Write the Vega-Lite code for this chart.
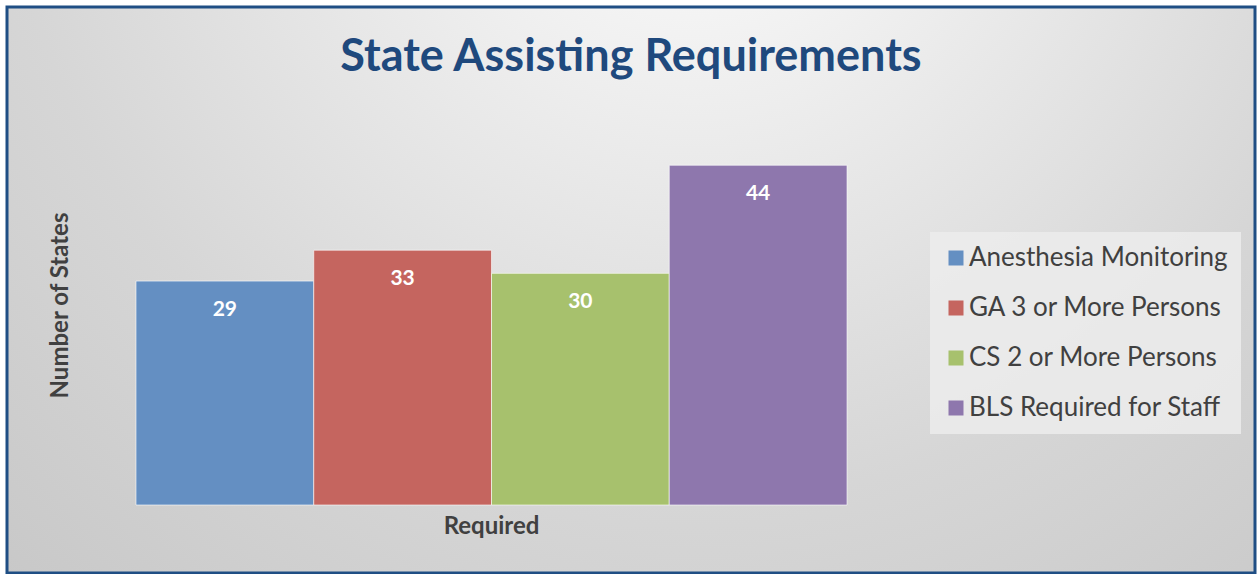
{
  "$schema": "https://vega.github.io/schema/vega-lite/v6.json",
  "width": 1248,
  "height": 566,
  "autosize": {"type": "none"},
  "padding": {"left": 7, "top": 7, "right": 2, "bottom": 1},
  "background": "white",
  "title": {
    "text": "State Assisting Requirements",
    "font": "Lato",
    "fontSize": 45,
    "fontWeight": "bold",
    "color": "#1f497d",
    "anchor": "middle",
    "frame": "group",
    "baseline": "alphabetic",
    "offset": -109
  },
  "config": {
    "view": {
      "fill": {
        "gradient": "radial",
        "x1": 0.55, "y1": 0.12, "r1": 0,
        "x2": 0.55, "y2": 0.12, "r2": 1,
        "stops": [
          {"offset": 0, "color": "#ffffff"},
          {"offset": 0.55, "color": "#d6d6d6"},
          {"offset": 1, "color": "#bfbfbf"}
        ]
      },
      "stroke": "#1f4e84",
      "strokeWidth": 3
    },
    "axis": {
      "labels": false,
      "ticks": false,
      "domain": false,
      "grid": false,
      "titleFont": "Lato",
      "titleFontWeight": "bold",
      "titleFontSize": 24,
      "titleColor": "#404040"
    }
  },
  "data": {
    "values": [
      {"category": "Anesthesia Monitoring", "value": 29},
      {"category": "GA 3 or More Persons", "value": 33},
      {"category": "CS 2 or More Persons", "value": 30},
      {"category": "BLS Required for Staff", "value": 44}
    ]
  },
  "encoding": {
    "x": {
      "field": "category",
      "type": "nominal",
      "sort": null,
      "scale": {"paddingInner": 0, "paddingOuter": 0, "range": [129, 840]},
      "axis": {"title": "Required", "titleX": 484, "titleY": -47, "titleBaseline": "middle"}
    },
    "y": {
      "field": "value",
      "type": "quantitative",
      "scale": {"domain": [-8.808, 64.5], "nice": false, "zero": false},
      "axis": {"title": "Number of States", "titleX": 53, "titleY": 298, "titleBaseline": "middle"}
    }
  },
  "layer": [
    {
      "mark": {"type": "bar", "stroke": "#ffffff", "strokeWidth": 1, "strokeOpacity": 0.6},
      "encoding": {
        "y2": {"datum": 0},
        "color": {
          "field": "category",
          "type": "nominal",
          "scale": {
            "domain": ["Anesthesia Monitoring", "GA 3 or More Persons", "CS 2 or More Persons", "BLS Required for Staff"],
            "range": ["#648fc2", "#c5655f", "#a7c16d", "#8e77ad"]
          },
          "legend": {
            "title": null,
            "orient": "none",
            "legendX": 923,
            "legendY": 225,
            "fillColor": "rgba(236,236,236,0.85)",
            "padding": 13,
            "symbolType": "square",
            "symbolSize": 225,
            "symbolStrokeWidth": 0,
            "labelFont": "Lato",
            "labelFontSize": 26,
            "labelColor": "#404040",
            "labelOffset": 0,
            "rowPadding": 24,
            "labelLimit": 400
          }
        }
      }
    },
    {
      "mark": {"type": "text", "baseline": "alphabetic", "dy": 35, "font": "Lato", "fontWeight": "bold", "fontSize": 21, "color": "#ffffff"},
      "encoding": {
        "text": {"field": "value", "type": "quantitative"}
      }
    }
  ]
}
